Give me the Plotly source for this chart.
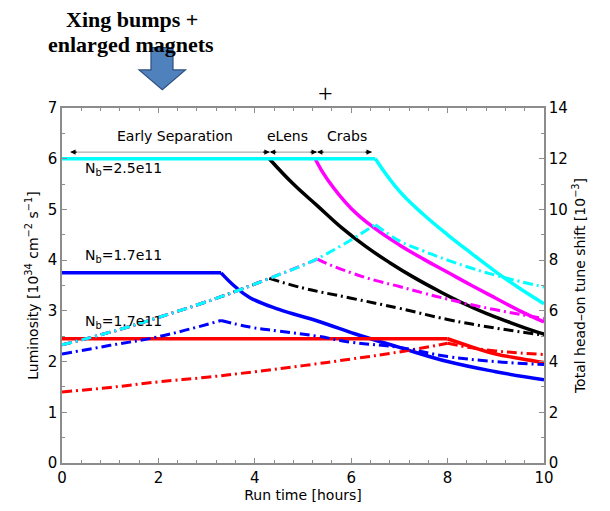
import plotly.graph_objects as go

# ---------------- data (luminosity, 10^34 cm^-2 s^-1) ----------------
t_cyan = [0, 6.5, 7, 7.5, 8, 8.5, 9, 9.5, 10]
L_cyan = [6.0, 6.0, 5.36, 4.9, 4.5, 4.13, 3.77, 3.44, 3.14]

t_mag = [5.25, 5.5, 6, 6.5, 7, 7.5, 8, 8.5, 9, 9.5, 10]
L_mag = [6.0, 5.6, 5.02, 4.62, 4.3, 4.02, 3.76, 3.5, 3.25, 3.0, 2.78]

t_blk = [4.3, 4.8, 5.3, 5.8, 6.3, 6.8, 7.3, 7.8, 8.3, 8.8, 9.3, 9.8, 10]
L_blk = [6.0, 5.5, 5.07, 4.64, 4.27, 3.95, 3.66, 3.4, 3.16, 2.95, 2.77, 2.6, 2.54]

t_blue = [0, 3.3, 3.6, 3.9, 4.5, 5.3, 6.2, 7, 8, 9, 10]
L_blue = [3.75, 3.75, 3.47, 3.26, 3.03, 2.8, 2.51, 2.28, 2.0, 1.8, 1.64]

t_red = [0, 8, 8.5, 9, 9.5, 10]
L_red = [2.45, 2.45, 2.29, 2.15, 2.06, 1.98]

# ---------------- data (total head-on tune shift, 10^-3) ----------------
td_cyan = [0, 1, 2, 3.3, 4.3, 5.3, 6.5, 7, 7.5, 8, 8.5, 9, 9.5, 10]
Q_cyan = [4.66, 5.16, 5.74, 6.56, 7.28, 8.06, 9.4, 8.76, 8.36, 8.0, 7.68, 7.4, 7.16, 6.94]

td_mag = [0, 1, 2, 3.3, 4.3, 5.3, 5.5, 6, 6.5, 7, 7.5, 8, 8.5, 9, 9.5, 10]
Q_mag = [4.66, 5.16, 5.74, 6.56, 7.28, 8.04, 7.86, 7.5, 7.2, 6.96, 6.7, 6.46, 6.24, 6.04, 5.86, 5.7]

td_blk = [0, 1, 2, 3.3, 4.3, 5, 6, 7, 8, 9, 10]
Q_blk = [4.66, 5.16, 5.74, 6.56, 7.28, 6.9, 6.5, 6.1, 5.66, 5.32, 5.04]

td_blue = [0, 1, 2, 3.3, 3.9, 4.5, 5.3, 6, 7, 8, 9, 10]
Q_blue = [4.3, 4.64, 4.98, 5.62, 5.36, 5.2, 5.0, 4.76, 4.56, 4.2, 4.0, 3.88]

td_red = [0, 1, 2, 3, 4, 5, 6, 7, 8, 8.5, 9, 9.5, 10]
Q_red = [2.8, 2.98, 3.2, 3.38, 3.6, 3.84, 4.1, 4.38, 4.72, 4.54, 4.42, 4.34, 4.28]

# index of the corner (end of flat / rising part) in each series
solid_series = [
    (t_blue, L_blue, "#0000FF", 1),
    (t_red, L_red, "#FF0000", 1),
    (t_blk, L_blk, "#000000", 0),
    (t_mag, L_mag, "#FF00FF", 0),
    (t_cyan, L_cyan, "#00FFFF", 1),
]
dd_series = [
    (td_red, Q_red, "#FF0000", 8),
    (td_blue, Q_blue, "#0000FF", 3),
    (td_blk, Q_blk, "#000000", 4),
    (td_mag, Q_mag, "#FF00FF", 5),
    (td_cyan, Q_cyan, "#00FFFF", 6),
]

# ---------------- figure ----------------
W, H = 610, 511
L_PX, R_PX, T_PX, B_PX = 62, 544, 108, 467
FONT = "DejaVu Sans, Verdana, sans-serif"
SERIF = "Liberation Serif, Times New Roman, serif"
DD = "10px,4px,2px,4px"
AX_COL = "#8c8c8c"

fig = go.Figure()


def add_piecewise(x, y, color, k, width, dash, yaxis):
    parts = []
    if k > 0:
        parts.append((x[:k + 1], y[:k + 1]))
    parts.append((x[k:], y[k:]))
    for px_, py_ in parts:
        shape = "linear" if len(set(py_)) == 1 else "spline"
        fig.add_trace(go.Scatter(x=px_, y=py_, mode="lines", yaxis=yaxis,
                                 line=dict(color=color, width=width, dash=dash,
                                           shape=shape, smoothing=1.2),
                                 showlegend=False, hoverinfo="skip"))


for x, y, c, k in dd_series:
    add_piecewise(x, y, c, k, 3, DD, "y2")
for x, y, c, k in solid_series:
    add_piecewise(x, y, c, k, 3.5, "solid", "y")

axis_common = dict(showline=True, linecolor=AX_COL, linewidth=1.5,
                   ticks="inside", ticklen=5, tickcolor=AX_COL,
                   showgrid=False, zeroline=False,
                   tickfont=dict(family=FONT, size=15, color="black"))

fig.update_layout(
    width=W, height=H,
    margin=dict(l=L_PX, r=W - R_PX, t=T_PX, b=H - B_PX),
    paper_bgcolor="white", plot_bgcolor="white",
    showlegend=False,
    xaxis=dict(range=[0, 10], tick0=0, dtick=2, mirror="ticks",
               minor=dict(ticks="inside", dtick=0.4, ticklen=3, tickcolor=AX_COL),
               title=dict(text="Run time [hours]", standoff=2,
                          font=dict(family=FONT, size=14, color="black")),
               **axis_common),
    yaxis=dict(range=[0, 7], tick0=0, dtick=1,
               minor=dict(ticks="inside", dtick=0.5, ticklen=3, tickcolor=AX_COL),
               title=dict(text="Luminosity [10<sup>34</sup> cm<sup>−2</sup> s<sup>−1</sup>]",
                          standoff=6, font=dict(family=FONT, size=14, color="black")),
               **axis_common),
    yaxis2=dict(range=[0, 14], tick0=0, dtick=2, overlaying="y", side="right",
                minor=dict(ticks="inside", dtick=1, ticklen=3, tickcolor=AX_COL),
                title=dict(text="Total head–on tune shift [10<sup>−3</sup>]",
                           standoff=8, font=dict(family=FONT, size=14, color="black")),
                **axis_common),
)

# phase arrows: gray line + small black heads
arrow_y = 6.13
phases = [(0.17, 4.31), (4.31, 5.29), (5.29, 6.43)]
for a, b in phases:
    fig.add_annotation(x=b, y=arrow_y, ax=a, ay=arrow_y, xref="x", yref="y",
                       axref="x", ayref="y", text="", showarrow=True,
                       arrowhead=0, arrowwidth=1, arrowcolor="#9a9a9a")
    for xe, off in [(a, 8), (b, -8)]:
        fig.add_annotation(x=xe, y=arrow_y, ax=off, ay=0, xref="x", yref="y",
                           text="", showarrow=True, arrowhead=2, arrowsize=0.9,
                           arrowwidth=1.2, arrowcolor="black", standoff=0)

labels = [("Early Separation", 2.34), ("eLens", 4.68), ("Crabs", 5.92)]
for txt, xpos in labels:
    fig.add_annotation(x=xpos, y=6.44, xref="x", yref="y", text=txt, showarrow=False,
                       font=dict(family=FONT, size=14, color="black"))

for txt, ypos in [("N<sub>b</sub>=2.5e11", 5.8), ("N<sub>b</sub>=1.7e11", 4.08),
                  ("N<sub>b</sub>=1.7e11", 2.78)]:
    fig.add_annotation(x=0.43, y=ypos, xref="x", yref="y", text=txt, showarrow=False,
                       xanchor="left", font=dict(family=FONT, size=14, color="black"))


def px(xp):
    return (xp - L_PX) / (R_PX - L_PX)


def py(yp):
    return (B_PX - yp) / (B_PX - T_PX)


# blue block arrow
pts = [(151, 47), (173, 47), (173, 69.5), (185.5, 69.5), (162.3, 89.5),
       (139, 69.5), (151, 69.5)]
path = "M " + " L ".join(f"{px(a):.4f},{py(b):.4f}" for a, b in pts) + " Z"
fig.add_shape(type="path", path=path, xref="paper", yref="paper",
              fillcolor="#4F81BD", line=dict(color="#2F4F7F", width=1.2), layer="above")

for txt, xc, yc in [("Xing bumps +", 131.5, 18), ("enlarged magnets", 131, 44)]:
    fig.add_annotation(x=px(xc), y=py(yc), xref="paper", yref="paper", text=txt,
                       xanchor="center", yanchor="middle", showarrow=False,
                       font=dict(family=SERIF, size=22, color="black", weight="bold"))
fig.add_annotation(x=px(325), y=py(93), xref="paper", yref="paper", text="+",
                   xanchor="center", yanchor="middle", showarrow=False,
                   font=dict(family=SERIF, size=26, color="black"))

fig.write_html("out.html")
